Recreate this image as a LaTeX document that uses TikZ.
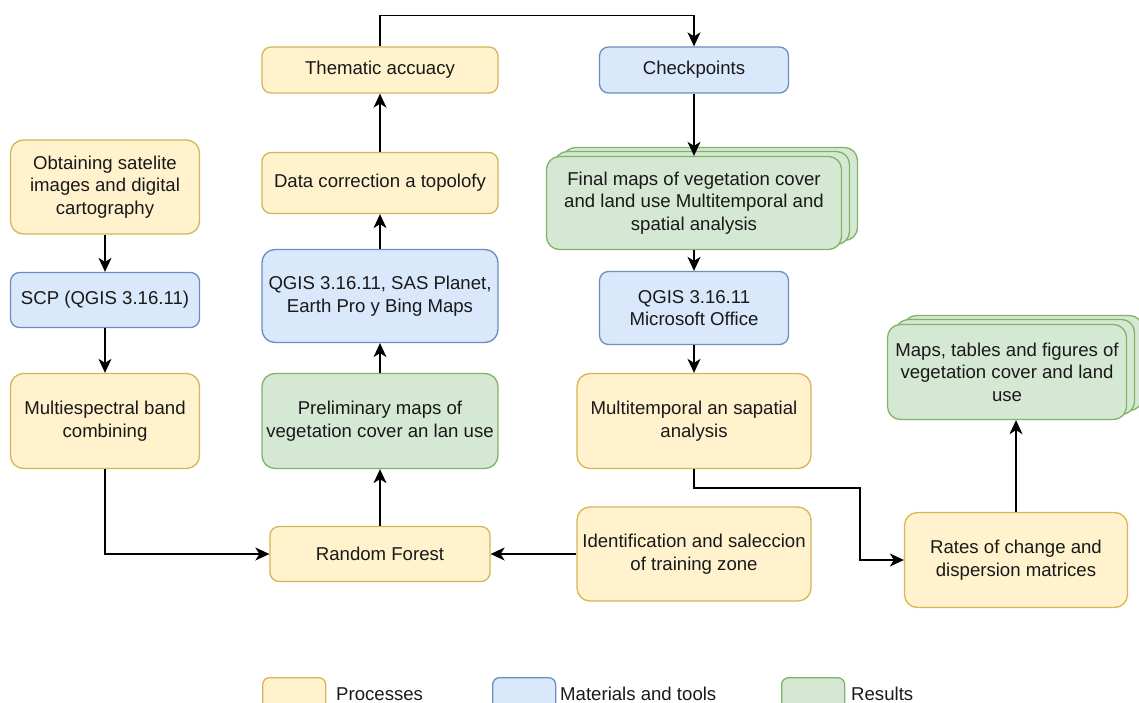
\documentclass[tikz,border=0pt]{standalone}
\usepackage{fontspec}
\setmainfont{Liberation Sans}
\usetikzlibrary{arrows.meta}

\definecolor{procfill}{HTML}{FFF2CC}
\definecolor{procline}{HTML}{D6B656}
\definecolor{toolfill}{HTML}{DAE8FC}
\definecolor{toolline}{HTML}{6C8EBF}
\definecolor{resfill}{HTML}{D5E8D4}
\definecolor{resline}{HTML}{82B366}

\tikzset{
  box/.style={draw, rounded corners=9pt, line width=1.3pt, align=center,
    inner sep=0pt, text=black!90, font=\fontsize{18.6}{22.4}\selectfont},
  tall/.style={rounded corners=13pt},
  proc/.style={box, draw=procline, fill=procfill},
  tool/.style={box, draw=toolline, fill=toolfill},
  res/.style={box, draw=resline, fill=resfill},
  arr/.style={-{Stealth[length=14pt,width=13pt,inset=4pt]}, line width=1.5pt},
  legendtext/.style={anchor=base west, inner sep=0pt, text=black!90,
    font=\fontsize{18.6}{22.4}\selectfont},
}

\begin{document}
\begin{tikzpicture}[x=1pt,y=-1pt]
  \useasboundingbox (0,0) rectangle (1139,703);
  \clip (0,0) rectangle (1139,703);
  % left column
  \node[proc,tall,minimum width=189,minimum height=94] (obtain) at (105,187)
    {Obtaining satelite\\images and digital\\cartography};
  \node[tool,minimum width=189,minimum height=55] (scp) at (105,300)
    {SCP (QGIS 3.16.11)};
  \node[proc,tall,minimum width=189,minimum height=95] (multi) at (105,421)
    {Multiespectral band\\combining};
  % middle column
  \node[proc,minimum width=236,minimum height=46] (thematic) at (380,70)
    {Thematic accuacy};
  \node[proc,minimum width=236,minimum height=61] (datacor) at (380,183)
    {Data correction a topolofy};
  \node[tool,tall,minimum width=236,minimum height=93] (qgissas) at (380,296)
    {QGIS 3.16.11, SAS Planet,\\Earth Pro y Bing Maps};
  \node[res,tall,minimum width=236,minimum height=95] (prelim) at (380,421)
    {Preliminary maps of\\vegetation cover an lan use};
  \node[proc,minimum width=220,minimum height=55] (rf) at (380,554)
    {Random Forest};
  % right column
  \node[tool,minimum width=189,minimum height=46] (check) at (694,70)
    {Checkpoints};
  \node[res,tall,minimum width=295,minimum height=93] (final3) at (710,194) {};
  \node[res,tall,minimum width=295,minimum height=93] (final2) at (702,198) {};
  \node[res,tall,minimum width=295,minimum height=93] (final) at (694,203)
    {Final maps of vegetation cover\\and land use Multitemporal and\\spatial analysis};
  \node[tool,minimum width=189,minimum height=73] (qgisms) at (694,308)
    {QGIS 3.16.11\\Microsoft Office};
  \node[proc,tall,minimum width=234,minimum height=95] (multitemp) at (694,421)
    {Multitemporal an sapatial\\analysis};
  \node[proc,tall,minimum width=234,minimum height=94] (ident) at (694,554)
    {Identification and saleccion\\of training zone};
  % outputs
  \node[res,tall,minimum width=239,minimum height=95] (maps3) at (1023,363) {};
  \node[res,tall,minimum width=239,minimum height=95] (maps2) at (1015,367) {};
  \node[res,tall,minimum width=239,minimum height=95] (maps) at (1007,372)
    {Maps, tables and figures of\\vegetation cover and land\\use};
  \node[proc,tall,minimum width=223,minimum height=95] (rates) at (1016,560)
    {Rates of change and\\dispersion matrices};
  \coordinate (bend) at (860,488);
  % connectors
  \draw[arr] (obtain) -- (scp);
  \draw[arr] (scp) -- (multi);
  \draw[arr] (multi.south) |- (rf.west);
  \draw[arr] (ident.west) -- (rf.east);
  \draw[arr] (rf) -- (prelim);
  \draw[arr] (prelim) -- (qgissas);
  \draw[arr] (qgissas) -- (datacor);
  \draw[arr] (datacor) -- (thematic);
  \draw[arr] (thematic.north) -- ++(0,-31) -| (check.north);
  \draw[arr] (check.south) -- (final.north);
  \draw[arr] (final.south) -- (qgisms.north);
  \draw[arr] (qgisms) -- (multitemp);
  \draw[arr] (multitemp.south) |- (bend) |- (rates.west);
  \draw[arr] (rates.north) -- (rates.north |- maps.south);
  % legend
  \node[proc,rounded corners=7pt,minimum width=63,minimum height=40,anchor=north west] (lgproc) at (262,677) {};
  \node[legendtext] (lgproctext) at (336,700) {Processes};
  \node[tool,rounded corners=7pt,minimum width=63,minimum height=40,anchor=north west] (lgtool) at (492,677) {};
  \node[legendtext] (lgtooltext) at (560,700) {Materials and tools};
  \node[res,rounded corners=7pt,minimum width=63,minimum height=40,anchor=north west] (lgres) at (781,677) {};
  \node[legendtext] (lgrestext) at (851,700) {Results};
\end{tikzpicture}
\end{document}
